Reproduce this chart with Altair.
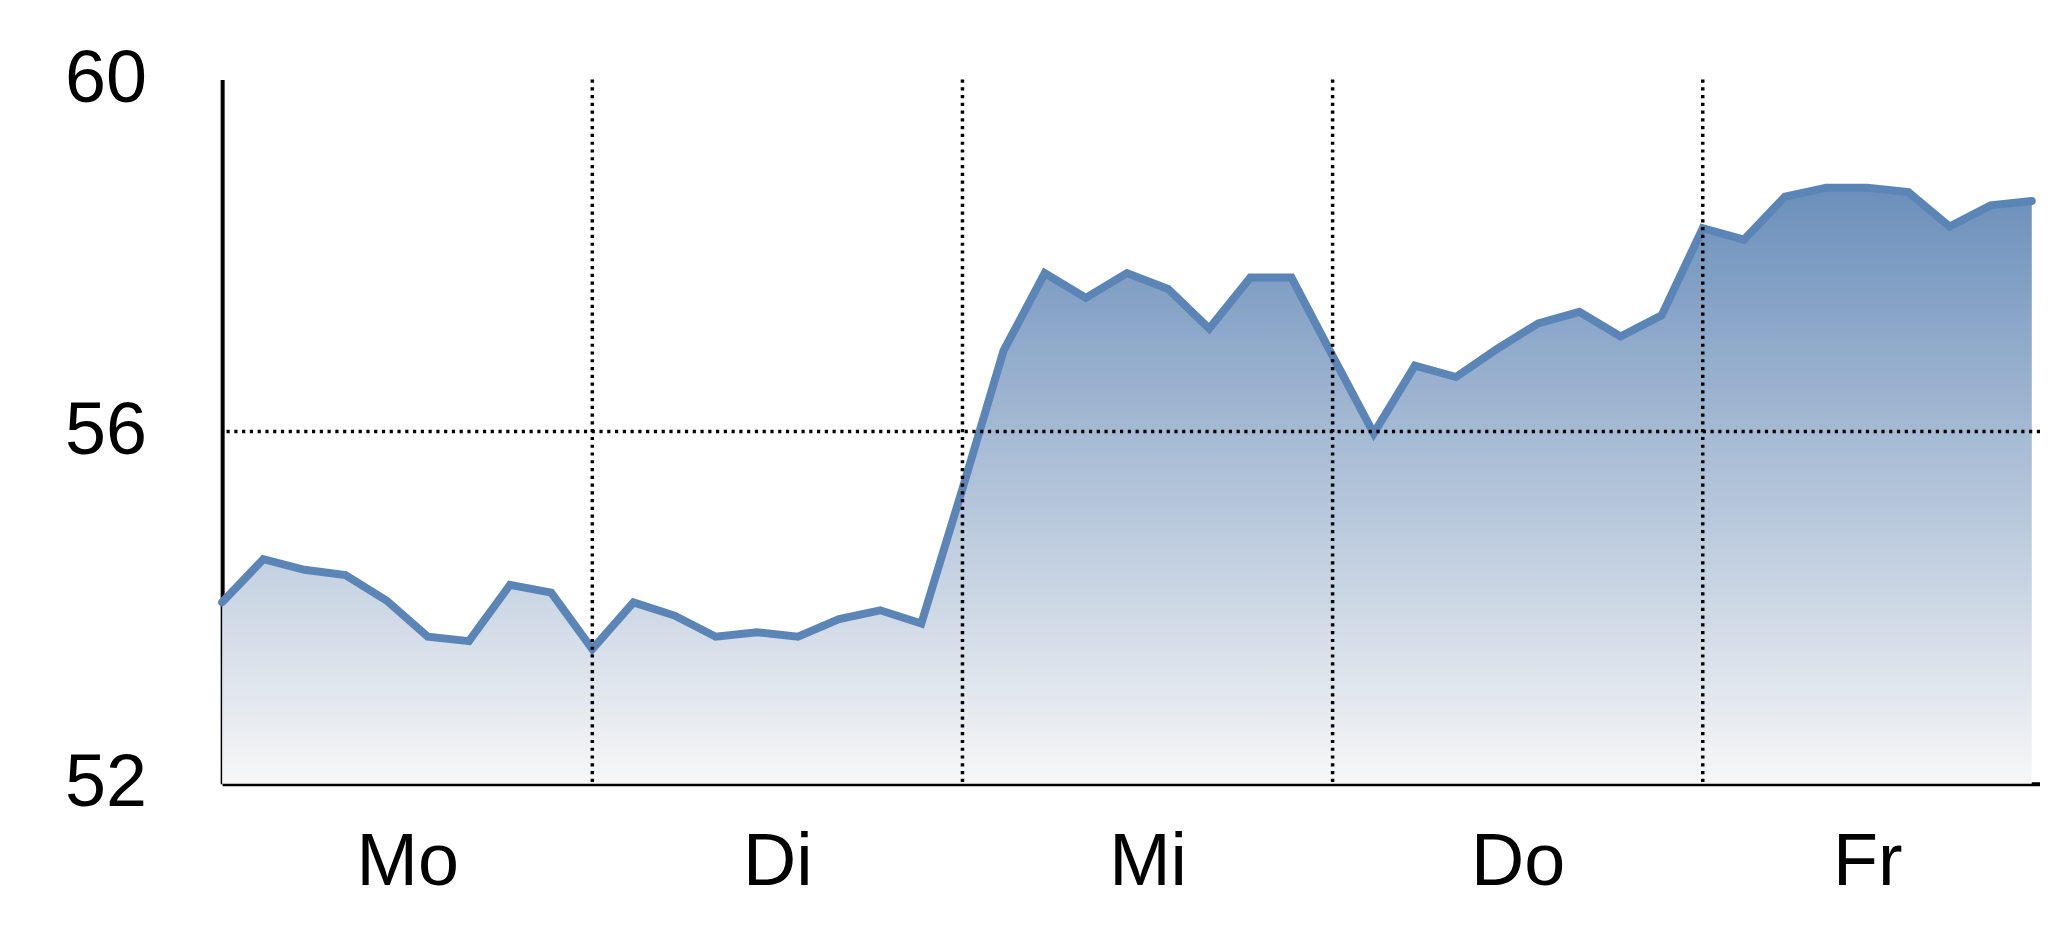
import altair as alt
import pandas as pd

# data
values = [54.06, 54.55, 54.43, 54.37, 54.08, 53.67, 53.62, 54.26, 54.17,
          53.53, 54.06, 53.91, 53.67, 53.72, 53.67, 53.87, 53.97, 53.82,
          55.35, 56.92, 57.80, 57.52, 57.80, 57.62, 57.17, 57.75, 57.75,
          56.86, 55.98, 56.75, 56.62, 56.94, 57.23, 57.36, 57.08, 57.32,
          58.31, 58.18, 58.67, 58.77, 58.77, 58.72, 58.33, 58.57, 58.62]
index = list(range(len(values)))
day_labels = ["Mo", "Di", "Mi", "Do", "Fr"]
label_pos = [4.5, 13.5, 22.5, 31.5, 40]
day_bounds = [9, 18, 27, 36]
y_ticks = [52, 56, 60]

df = pd.DataFrame({"i": index, "v": values})
bounds = pd.DataFrame({"b": day_bounds})

W, H = 1825, 707
FONT = "Liberation Sans Narrow, Arial Narrow, Liberation Sans, Arial, sans-serif"
FS = 74

label_expr = " : ".join(
    f"datum.value == {p} ? '{t}'" for p, t in zip(label_pos, day_labels)
) + " : ''"

xscale = alt.Scale(domain=[0, 44.2], nice=False, zero=False)
yscale = alt.Scale(domain=[52, 60], nice=False, zero=False)

x_enc = alt.X("i:Q", scale=xscale, axis=alt.Axis(
    values=label_pos, labelExpr=label_expr, title=None, grid=False,
    ticks=False, tickSize=0, labelPadding=43, labelFontSize=FS,
    labelFont=FONT, labelColor="#000000", domainColor="#000000",
    domainWidth=4, labelBaseline="top", labelFlush=False))
y_enc = alt.Y("v:Q", scale=yscale, axis=alt.Axis(
    values=y_ticks, format="d", title=None, grid=False, ticks=False,
    tickSize=0, labelPadding=76, labelFontSize=FS, labelFont=FONT,
    labelColor="#000000", domainColor="#000000", domainWidth=4))

area = alt.Chart(df).mark_area(
    color=alt.Gradient(
        gradient="linear",
        stops=[alt.GradientStop(color="#6b8fbb", offset=0),
               alt.GradientStop(color="#f7f7f7", offset=1)],
        x1=1, x2=1, y1=0, y2=1),
).encode(x=x_enc, y=y_enc, y2=alt.datum(52))

line = alt.Chart(df).mark_line(
    color="#5b85b7", strokeWidth=8, strokeCap="round", strokeJoin="miter"
).encode(x="i:Q", y="v:Q")

vrules = alt.Chart(bounds).mark_rule(
    color="#000000", strokeWidth=3.5, strokeDash=[3.2, 4.6]
).encode(x="b:Q", y=alt.datum(60), y2=alt.datum(52))

hrule = alt.Chart(pd.DataFrame({"h": [56]})).mark_rule(
    color="#000000", strokeWidth=3.5, strokeDash=[3.2, 4.6]
).encode(y="h:Q")

chart = alt.layer(area, line, vrules, hrule).properties(
    width=W, height=H,
    autosize=alt.AutoSizeParams(type="none"),
    padding={"left": 215, "top": 70, "right": 0, "bottom": 120},
).configure(background="#ffffff").configure_view(stroke=None)

chart.save("out.html", embed_options={"renderer": "svg", "actions": False})
